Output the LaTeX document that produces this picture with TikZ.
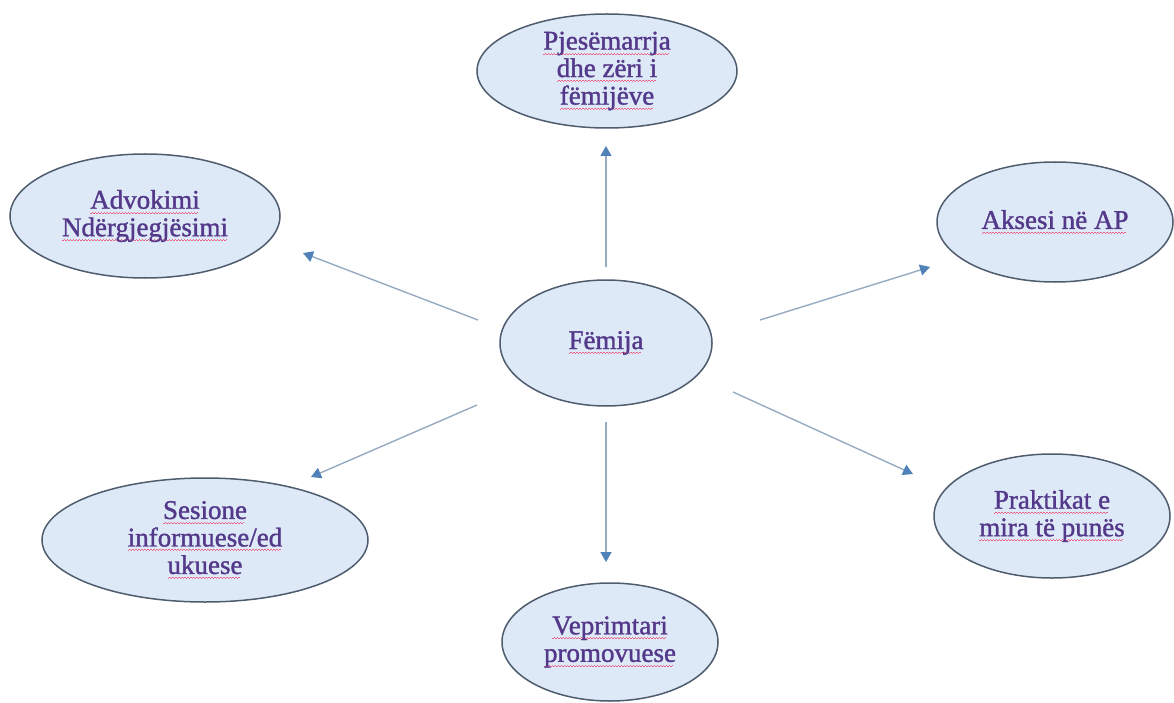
\documentclass[tikz,border=0pt]{standalone}
\usepackage{fontspec}
\setmainfont{Liberation Serif}
\newfontfamily\bubblefont[FakeBold=1.3]{Liberation Serif}
\usetikzlibrary{arrows.meta,shapes.geometric}
\definecolor{ellfill}{RGB}{222,233,247}
\definecolor{elldraw}{RGB}{78,92,110}
\definecolor{txtcol}{RGB}{84,56,138}
\definecolor{wavecol}{RGB}{235,100,135}
\definecolor{linecol}{RGB}{150,170,192}
\definecolor{headcol}{RGB}{80,130,185}
\newsavebox\wvbox
\newcommand\wv[1]{\sbox\wvbox{#1}\leavevmode\rlap{\raisebox{-5pt}{\textcolor{wavecol}{\leaders\hbox to 3pt{\rule[0pt]{1.5pt}{1pt}\rule[1pt]{1.5pt}{1pt}}\hskip\wd\wvbox}}}\usebox\wvbox}
\begin{document}
\begin{tikzpicture}[x=1pt,y=-1pt,
  bubble/.style={ellipse, draw=elldraw, fill=ellfill, line width=1.5pt, inner sep=0pt,
    font=\bubblefont\fontsize{27}{27.5}\selectfont, text=txtcol, align=center},
  link/.style={draw=linecol, line width=1.4pt,
    -{Triangle[length=10pt,width=11pt,fill=headcol,color=headcol]}}]
\useasboundingbox (0,0) rectangle (1174,703);
% nodes
\node[bubble, minimum width=212pt, minimum height=126pt] (c) at (606,343) {\wv{Fëmija}};
\node[bubble, minimum width=260pt, minimum height=114pt] (t) at (607,71) {\wv{Pjesëmarrja}\\\wv{dhe zëri i}\\\wv{fëmijëve}};
\node[bubble, minimum width=270pt, minimum height=124pt] (l) at (145,216) {\wv{Advokimi}\\\wv{Ndërgjegjësimi}};
\node[bubble, minimum width=236pt, minimum height=120pt] (r) at (1055,222) {\wv{Aksesi në AP}};
\node[bubble, minimum width=326pt, minimum height=124pt] (bl) at (205,540) {\wv{Sesione}\\\wv{informuese/ed}\\\wv{ukuese}};
\node[bubble, minimum width=236pt, minimum height=124pt] (br) at (1052,516) {\wv{Praktikat e}\\\wv{mira të punës}};
\node[bubble, minimum width=216pt, minimum height=118pt] (b) at (610,642) {\wv{Veprimtari}\\\wv{promovuese}};
% arrow ends
\coordinate (tu) at (606,267); \coordinate (hu) at (606,146);
\coordinate (tlu) at (478,320); \coordinate (hlu) at (303,253);
\coordinate (tru) at (760,320); \coordinate (hru) at (930,267);
\coordinate (tld) at (477,405); \coordinate (hld) at (311,477);
\coordinate (trd) at (733,392); \coordinate (hrd) at (913,474);
\coordinate (td) at (606,422); \coordinate (hd) at (606,562);
\draw[link] (tu) -- (hu);
\draw[link] (tlu) -- (hlu);
\draw[link] (tru) -- (hru);
\draw[link] (tld) -- (hld);
\draw[link] (trd) -- (hrd);
\draw[link] (td) -- (hd);
\end{tikzpicture}
\end{document}
